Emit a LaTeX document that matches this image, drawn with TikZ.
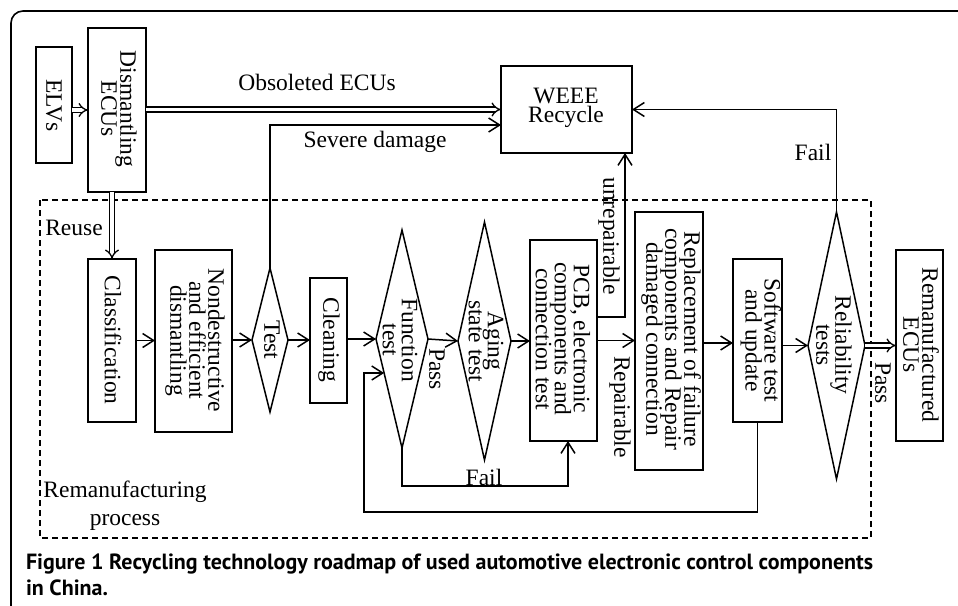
\documentclass[tikz,border=0pt]{standalone}
\usepackage{fontspec}
\setmainfont{Liberation Serif}
\newfontfamily\capfont{PT Sans}
\usetikzlibrary{arrows.meta,shapes.geometric,calc}
\newcommand\dfont{\fontsize{23.5}{19}\selectfont\lineskiplimit=-30pt\relax}
\newcommand\lfont{\fontsize{23.5}{28}\selectfont}
\begin{document}
\begin{tikzpicture}[x=1pt,y=-1pt,
 every node/.style={inner sep=0pt,outer sep=0pt},
 shp/.style={draw,line width=1.5pt},
 bx/.style 2 args={shp,rectangle,minimum width=#1,minimum height=#2},
 dm/.style 2 args={shp,diamond,minimum width=#1,minimum height=#2},
 txt/.style={font=\dfont,align=center},
 vt/.style={txt,rotate=-90},
 ln/.style={line width=1.5pt},
 arr/.style={ln,-{Straight Barb[length=11pt,width=14pt]}},
 dbl/.style={line width=1.3pt,double,double distance=3.5pt,-{Implies}},
]
\useasboundingbox (0,0) rectangle (958,605);
% frame
\draw[line width=1.6pt,rounded corners=12pt] (975,11) -- (11,11) -- (11,620);
% remanufacturing region
\draw[line width=1.2pt,dash pattern=on 6pt off 4pt] (40,200) rectangle (871,538);

% shapes
\node[bx={36}{116}] (elv) at (54,105) {};
\node[bx={58}{164}] (dis) at (117,110) {};
\node[bx={131}{87}] (weee) at (566.5,109.5) {};
\node[bx={48}{163}] (cls) at (112,340.5) {};
\node[bx={77}{182}] (nd) at (193.5,341) {};
\node[dm={36}{144}] (test) at (270,340) {};
\node[bx={37}{125}] (clean) at (328.5,340.5) {};
\node[dm={52}{218}] (func) at (402,339) {};
\node[dm={53}{238}] (aging) at (484.5,341) {};
\node[bx={67}{201}] (pcb) at (563.5,340.5) {};
\node[bx={68}{258}] (rep) at (669,341) {};
\node[bx={49}{163}] (sw) at (757.5,340.5) {};
\node[dm={57}{267}] (rel) at (836.5,345.5) {};
\node[bx={47}{191}] (reman) at (919.5,345.5) {};

% texts in shapes
\node[vt] (telv) at (54,105.5) {ELVs};
\node[vt] (tdis) at (119,109) {Dismantling\\ECUs};
\node[txt] (tweee) at (566,108) {WEEE\\Recycle};
\node[vt] (tcls) at (113,340) {Classification};
\node[vt] (tnd) at (195,340.5) {Nondestructive\\and efficient\\dismantling};
\node[vt] (ttest) at (272,340) {Test};
\node[vt] (tclean) at (329,340) {Cleaning};
\node[vt] (tfunc) at (400,340) {Function\\test};
\node[vt] (taging) at (486,341) {Aging\\state test};
\node[vt] (tpcb) at (563,339) {PCB, electronic\\components and\\connection test};
\node[vt] (trep) at (671,339) {Replacement of failure\\components and Repair\\damaged connection};
\node[vt] (tsw) at (761,340.5) {Software test\\and update};
\node[vt] (trel) at (834,345) {Reliability\\tests};
\node[vt] (treman) at (921,345) {Remanufactured\\ECUs};

% connectors
\draw[dbl] (dis.west -| elv.east) -- (dis.west);
\draw[dbl] (weee.west -| dis.east) -- (weee.west);
\draw[dbl] (cls.north |- dis.south) -- (cls.north);
\draw[arr] (test.north) |- ([yshift=-15.5pt]weee.west);
\draw[arr] (cls.east) -- (nd.west |- cls.east);
\draw[arr] (test.west -| nd.east) -- (test.west);
\draw[arr] (test.east) -- (test.east -| clean.west);
\draw[arr] (func.west -| clean.east) -- (func.west);
\draw[arr] (func.east) -- (aging.west);
\draw[arr] (aging.east) -- (aging.east -| pcb.west);
\draw[arr] (pcb.east) -- (pcb.east -| rep.west);
\draw[arr] ([yshift=-2pt]rep.east) -- ([yshift=-2pt]rep.east -| sw.west);
\draw[arr] (rel.west -| sw.east) -- (rel.west);
\draw[dbl] (rel.east) -- (rel.east -| reman.west);
\draw[arr] ([yshift=23.5pt]pcb.east) -| ([xshift=-7pt]weee.south east);
\draw[arr] (rel.north) |- (weee.east);
\draw[arr] (func.south) -- ++(0,38) -| ([xshift=4.5pt]pcb.south);
\coordinate (lp) at (364,512);
\coordinate (fe) at ($(func.west)!0.312!(func.south)$);
\draw[arr] (sw.south) |- (lp) |- (fe);

% labels
\node[txt] (lobs) at (317,82) {Obsoleted ECUs};
\node[txt] (lsev) at (375,142) {Severe damage};
\node[txt] (lreuse) at (74,228) {Reuse};
\node[vt] (lpass1) at (437,369) {Pass};
\node[vt] (lrep) at (620,407) {Repairable};
\node[vt] (lunrep) at (609,236) {unrepairable};
\node[txt] (lfail1) at (813,152) {Fail};
\node[txt] (lfail2) at (484,477) {Fail};
\node[vt] (lpass2) at (883,383) {Pass};
\node[align=center,font=\lfont] (lrem) at (125,506) {Remanufacturing\\process};

% caption
\node[anchor=north west,align=left,font=\capfont\bfseries\fontsize{22}{26}\selectfont] (cap) at (26,554)
 {Figure 1 Recycling technology roadmap of used automotive electronic control components\\in China.};
\end{tikzpicture}
\end{document}
